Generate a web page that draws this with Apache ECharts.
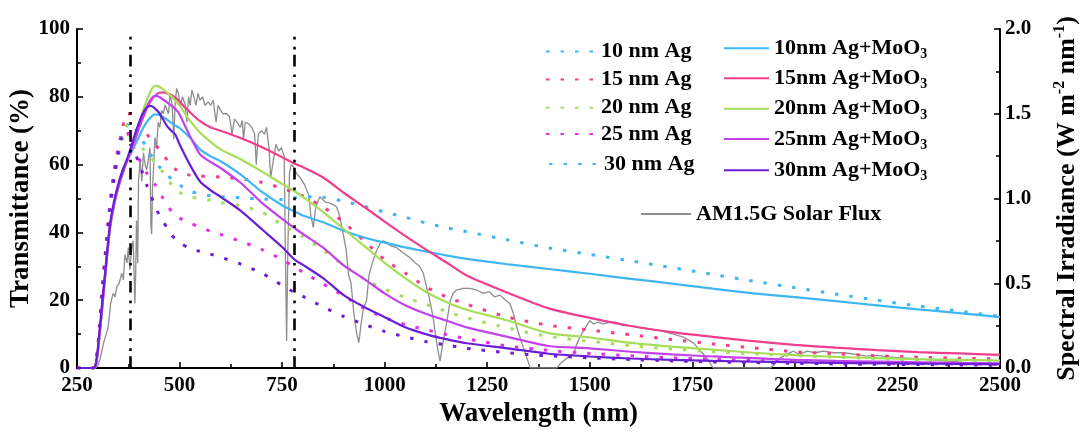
<!DOCTYPE html>
<html><head><meta charset="utf-8">
<script src="https://cdn.jsdelivr.net/npm/echarts@6/dist/echarts.min.js"></script>
<style>html,body{margin:0;padding:0;background:#fff}#c{width:1086px;height:434px}</style>
</head><body><div id="c"></div>
<script>
// ---------- data ----------
const wavelength = [250,290,295,300,305,310,320,330,340,350,360,370,380,390,400,410,420,430,440,450,460,470,480,490,500,525,550,575,600,650,700,750,780,800,850,900,950,1000,1050,1100,1150,1200,1300,1400,1500,1600,1700,1800,1900,2000,2100,2200,2300,2400,2500];

// solid: Ag + MoO3
const agMo10 = [0,0,0.5,4,10,16,29,41,48,53,57,60.5,63, 65.5,68,70.5,72.5,74,74.8,74.7,74,73.2,72.3,71.5,70.8, 68,64.5,62.5,61, 57,52,48,46.2,45, 43,40.5,38.5,37, 35.6,34.4,33.2,32.2, 30.6,29.2,27.8,26.3,24.9,23.4,22,20.9, 19.7,18.5,17.3,16.2,15];
const agMo15 = [0,0,0.5,4,10,16,29,41,48,53,57,60.5,63.5, 67,70.5,73.5,76.5,78.8,80.3,81.2,81.3,81,80.5,79.8,78.5, 75.5,72.8,71,70, 67.8,65.2,62.2,60.3,59.3, 56.2,51.7,47.5,43.2, 39,35,31.2,27.3, 22.2,17.6,14.8,12.4,10.6,9.2,7.9,6.8, 6,5.3,4.7,4.3,3.9];
const agMo20 = [0,0,0.5,4,10,16,29,41,48,53,57,60.5,63.5, 67.5,71.5,75.5,79,81.8,83.2,83,82.2,81.2,80.2,78.8,77.5, 73,69.5,66.8,64.5, 61.5,58,54.3,52.2,50.5, 46,41,36,31, 26.5,22.5,19.5,17.2, 14,10.3,9,7.4,6.3,5.4,4.5,3.8, 3.3,2.9,2.6,2.4,2.2];
const agMo25 = [0,0,0.5,4,10,16,29,41,48,53,57,60.5,63.5, 67,70.5,74,77,79.2,80.3,80,79.2,78.3,77.4,76.4,74.8, 68.5,63,60.8,59, 54.5,48.8,44,41.3,39.6, 35.5,30.3,26.3,22, 18.5,16,14,12, 9.2,6.5,5.8,4.8,4,3.4,2.9,2.4, 2.1,1.9,1.7,1.5,1.4];
const agMo30 = [0,0,0.8,5,11,17.5,30,42,49,54,58,61,64.5, 68.5,72,75,76.8,77.3,76.6,75.3,73.3,71.3,70,68.8,66, 60,55,52.5,50.5, 46.3,41,35.7,32,30.5, 26.5,21.5,18,15, 12,10,8.5,7.3, 5.8,4.2,3.4,2.8,2.4,2.1,1.9,1.7, 1.5,1.4,1.3,1.2,1.1];

// dotted: bare Ag
const ag10 = [0,0,1,5,12,20,33,46,55,62,67.5,71,72.5, 71,69,67,65,63,61.3,59.5,58,56.8,55.8,54.8,54, 52.2,51.3,50.8,50.5, 50.2,49.8,49.7,50.2,50.5, 50.4,49.2,47.7,46, 44.5,42.8,41.4,40.2, 37.8,35.4,33.5,31.6,29.6,27.6,25.6,23.7, 21.8,20,18.3,16.8,15.2];
const ag15 = [0,0,1,5.5,13,21.5,35,48,57.5,64.5,70,75,75, 73.5,72,70.5,69,67.5,66,64.5,63,61.3,59.8,58.6,57.7, 56.9,56.6,56.5,56.3, 55.8,54.8,53,51.8,50.8, 47.5,43,37.5,32, 28,24,21,18.8, 15,12.6,11.2,9.8,8.4,7.1,5.9,4.8, 4.2,3.6,3.2,2.9,2.6];
const ag20 = [0,0,1,5,12.5,20.5,34,47,56.5,63.5,69,71.5,70.5, 68.5,66.5,64.8,63.3,62,60.8,59.3,57.6,55.8,54.2,52.9,51.8, 50.5,50,49.5,48.8, 47.8,46,42.2,40.3,38.8, 34.8,30.3,26.3,23.3, 20.8,18.8,16.7,14.8, 11.8,9.3,7.9,6.6,5.6,4.8,4.2,3.7, 3.2,2.8,2.4,2.1,1.9];
const ag25 = [0,0,1,5,12.5,21,35,48,57.5,64.5,69.5,70,67, 64.5,62,59.5,57.5,55.5,54.2,52,50,48,46.3,45,44.2, 42.8,41.5,40.4,39.4, 37.3,35,32,29.8,28.3, 24.8,21.3,17.6,14.8, 12.8,11.3,9.9,8.6, 6.5,5.2,4.3,3.6,3,2.6,2.2,1.9, 1.7,1.5,1.3,1.2,1.1];
const ag30 = [0,0,1,5,12,20,34,46.5,56,63,68,68,66, 63.5,61,57.5,54,51,47.8,45.3,43.3,41.2,39.3,38,37, 35.3,34.4,33.6,32.7, 30.6,28,24.4,22.3,21.2, 18,15.2,12.9,10.8, 9.2,7.8,6.8,5.8, 4.5,3.6,3,2.5,2.1,1.8,1.6,1.4, 1.2,1.1,1,0.9,0.8];

// AM1.5G solar flux (right axis, W m-2 nm-1)
const solarWl = [250,295,300,306,315,326,332,338,343,347,353,359,363,367,372,375,379,383,387,391,393,395,398,400,404,408,412,416,420,425,428,430,432,434,437,440,444,448,452,456,460,465,469,473,477,482,486,489,493,497,502,507,513,518,522,526,530,535,540,545,550,556,562,570,576,582,589,594,600,606,615,622,628,634,640,648,653,656,660,668,676,683,687,692,700,707,712,718,722,727,735,742,748,755,759,761,764,768,772,777,785,795,805,815,820,826,832,842,855,870,883,890,899,906,912,918,925,932,937,942,948,956,962,970,980,990,997,1005,1015,1029,1045,1062,1075,1085,1094,1102,1110,1118,1125,1130,1135,1142,1150,1160,1167,1175,1190,1208,1225,1240,1255,1268,1281,1295,1305,1314,1322,1330,1338,1348,1355,1420,1430,1445,1460,1468,1480,1490,1500,1509,1520,1533,1550,1565,1580,1600,1620,1647,1670,1704,1730,1752,1770,1785,1801,1940,1950,1964,1980,1996,2010,2030,2050,2070,2094,2120,2150,2175,2200,2230,2256,2290,2320,2350,2380,2419,2450,2480,2500];
const solarFlux = [0,0,0.01,0.05,0.15,0.24,0.38,0.44,0.42,0.48,0.5,0.56,0.52,0.67,0.62,0.71,0.58,0.7,0.75,0.38,0.55,0.87,0.62,1.1,1.23,1.1,1.27,1.2,1.17,1.25,1.3,0.85,0.79,1.05,1.2,1.36,1.3,1.45,1.42,1.52,1.5,1.55,1.56,1.5,1.62,1.55,1.35,1.55,1.65,1.62,1.55,1.6,1.56,1.45,1.6,1.55,1.64,1.6,1.55,1.62,1.58,1.6,1.55,1.57,1.55,1.58,1.45,1.55,1.52,1.5,1.5,1.48,1.38,1.47,1.45,1.42,1.46,1.35,1.45,1.44,1.42,1.38,1.2,1.38,1.4,1.38,1.42,1.3,1.12,1.2,1.32,1.28,1.3,1.25,0.5,0.16,0.7,1.15,1.2,1.19,1.15,1.12,1.08,1.02,0.9,0.83,0.95,1.01,0.98,0.97,0.95,0.9,0.79,0.7,0.55,0.5,0.32,0.2,0.15,0.25,0.35,0.4,0.55,0.62,0.69,0.74,0.75,0.74,0.72,0.71,0.68,0.65,0.62,0.6,0.56,0.48,0.4,0.3,0.18,0.1,0.04,0.15,0.25,0.4,0.44,0.46,0.47,0.47,0.46,0.44,0.45,0.42,0.43,0.4,0.38,0.32,0.24,0.18,0.12,0.05,0,0,0.03,0.06,0.08,0.14,0.2,0.24,0.28,0.26,0.27,0.26,0.27,0.27,0.25,0.25,0.24,0.23,0.22,0.2,0.18,0.15,0.1,0.06,0,0,0.02,0.06,0.08,0.1,0.08,0.1,0.09,0.1,0.09,0.09,0.08,0.07,0.075,0.065,0.06,0.055,0.05,0.045,0.04,0.03,0.03,0.02,0.02];

const markerWl = [380, 780];

// ---------- styles ----------
const FONT = 'Liberation Serif';
const C = {b:'#3db6f2', p:'#f03e8c', g:'#a6de5a', m:'#c242ea', md:'#e22ee4', v:'#6a1ed6', grey:'#8e8e8e'};

function pairs(xs, ys){ return xs.map((x,i)=>[x, ys[i]]); }
function solid(name, ys, color){
  return {name, type:'line', data:pairs(wavelength, ys), symbol:'none', smooth:0.25, z:3,
    lineStyle:{color, width:2.2}, itemStyle:{color}};
}
function dotted(name, ys, color){
  return {name, type:'line', data:pairs(wavelength, ys), symbol:'none', smooth:0.25, z:2,
    lineStyle:{color, width:3, type:[3.5,11]}, itemStyle:{color}};
}

const series = [
  {name:'AM1.5G Solar Flux', type:'line', yAxisIndex:1, data:pairs(solarWl, solarFlux), symbol:'none', z:1,
   lineStyle:{color:C.grey, width:1.3}, itemStyle:{color:C.grey},
   markLine:{silent:true, symbol:'none', label:{show:false},
     lineStyle:{color:'#000', width:2.6, type:[11.7,5.3,2.7,7.3,2.7,8]},
     data: markerWl.map(v=>({xAxis:v}))}},
  dotted('10 nm Ag', ag10, C.b),
  dotted('15 nm Ag', ag15, C.p),
  dotted('20 nm Ag', ag20, C.g),
  dotted('25 nm Ag', ag25, C.md),
  dotted('30 nm Ag', ag30, C.v),
  solid('10nm Ag+MoO3', agMo10, C.b),
  solid('15nm Ag+MoO3', agMo15, C.p),
  solid('20nm Ag+MoO3', agMo20, C.g),
  solid('25nm Ag+MoO3', agMo25, C.m),
  solid('30nm Ag+MoO3', agMo30, C.v)
];

// legend layout (position only)
const legendLayout = [
  {name:'10 nm Ag', left:545, cy:51.5, w:50},
  {name:'15 nm Ag', left:545, cy:79.5, w:50},
  {name:'20 nm Ag', left:545, cy:107.8, w:50},
  {name:'25 nm Ag', left:545, cy:134, w:50},
  {name:'30 nm Ag', left:548, cy:164, w:50, icon:C.b},
  {name:'10nm Ag+MoO3', left:723, cy:48.3, w:45},
  {name:'15nm Ag+MoO3', left:723, cy:78.3, w:45},
  {name:'20nm Ag+MoO3', left:723, cy:108.8, w:45},
  {name:'25nm Ag+MoO3', left:723, cy:139, w:45},
  {name:'30nm Ag+MoO3', left:723, cy:170.3, w:45},
  {name:'AM1.5G Solar Flux', left:640, cy:214, w:50}
];
const hiddenSym = {color:'rgba(0,0,0,0)', borderColor:'rgba(0,0,0,0)', borderWidth:0, opacity:0};
const legends = legendLayout.map(L=>{
  const item = {name:L.name, itemStyle:hiddenSym};
  if (L.icon) { item.lineStyle = {color:L.icon}; }
  const h = 24;
  return {
    data:[item], left:L.left, top:L.cy - h/2, orient:'vertical', padding:0,
    itemWidth:L.w, itemHeight:14, selectedMode:false, itemStyle:hiddenSym,
    formatter: n => n.replace('MoO3','MoO{sub|3}'),
    textStyle:{fontFamily:FONT, fontSize:22, fontWeight:'bold', color:'#000', lineHeight:24,
      rich:{sub:{fontFamily:FONT, fontSize:14, fontWeight:'bold', color:'#000', padding:[13,0,0,0]}}}
  };
});

const axisLbl = {fontFamily:FONT, fontSize:21, fontWeight:'bold', color:'#000'};
const tickStyle = {color:'#000', width:1.6};

const option = {
  animation:false,
  backgroundColor:'#fff',
  grid:{left:77, right:86, top:29, bottom:66, outerBoundsMode:'none'},
  legend: legends,
  xAxis:[{
    type:'value', min:250, max:2500, interval:250,
    name:'Wavelength (nm)', nameLocation:'middle', nameGap:31,
    nameTextStyle:{fontFamily:FONT, fontSize:27, fontWeight:'bold', color:'#000'},
    axisLine:{show:true, onZero:false, lineStyle:{color:'#000', width:2}},
    axisTick:{show:true, inside:true, length:6, lineStyle:tickStyle},
    minorTick:{show:true, splitNumber:2, length:4, lineStyle:tickStyle},
    splitLine:{show:false},
    axisLabel:Object.assign({margin:7, formatter:v=>String(v)}, axisLbl)
  },{
    type:'value', position:'top', min:250, max:2500,
    axisLine:{show:true, lineStyle:{color:'#000', width:2}},
    axisTick:{show:false}, axisLabel:{show:false}, splitLine:{show:false}
  }],
  yAxis:[{
    type:'value', min:0, max:100, interval:20,
    name:'Transmittance (%)', nameLocation:'middle', nameGap:42, nameRotate:90, nameMoveOverlap:false,
    nameTextStyle:{fontFamily:FONT, fontSize:27, fontWeight:'bold', color:'#000'},
    axisLine:{show:true, lineStyle:{color:'#000', width:2}},
    axisTick:{show:true, inside:true, length:6, lineStyle:tickStyle},
    minorTick:{show:true, splitNumber:2, length:4, lineStyle:tickStyle},
    splitLine:{show:false},
    axisLabel:Object.assign({margin:7}, axisLbl)
  },{
    type:'value', min:0, max:2, interval:0.5, position:'right',
    name:'Spectral Irradiance (W m{sup|-2} nm{sup|-1})', nameLocation:'middle', nameGap:52, nameRotate:90,
    nameTextStyle:{fontFamily:FONT, fontSize:26, fontWeight:'bold', color:'#000',
      rich:{sup:{fontFamily:FONT, fontSize:16, fontWeight:'bold', color:'#000', padding:[0,0,15,0]}}},
    axisLine:{show:true, lineStyle:{color:'#000', width:2}},
    axisTick:{show:true, inside:true, length:6, lineStyle:tickStyle},
    minorTick:{show:true, splitNumber:2, length:4, lineStyle:tickStyle},
    splitLine:{show:false},
    axisLabel:Object.assign({margin:5, formatter:v=>v.toFixed(1)}, axisLbl)
  }],
  series
};
echarts.init(document.getElementById('c')).setOption(option);
</script></body></html>
